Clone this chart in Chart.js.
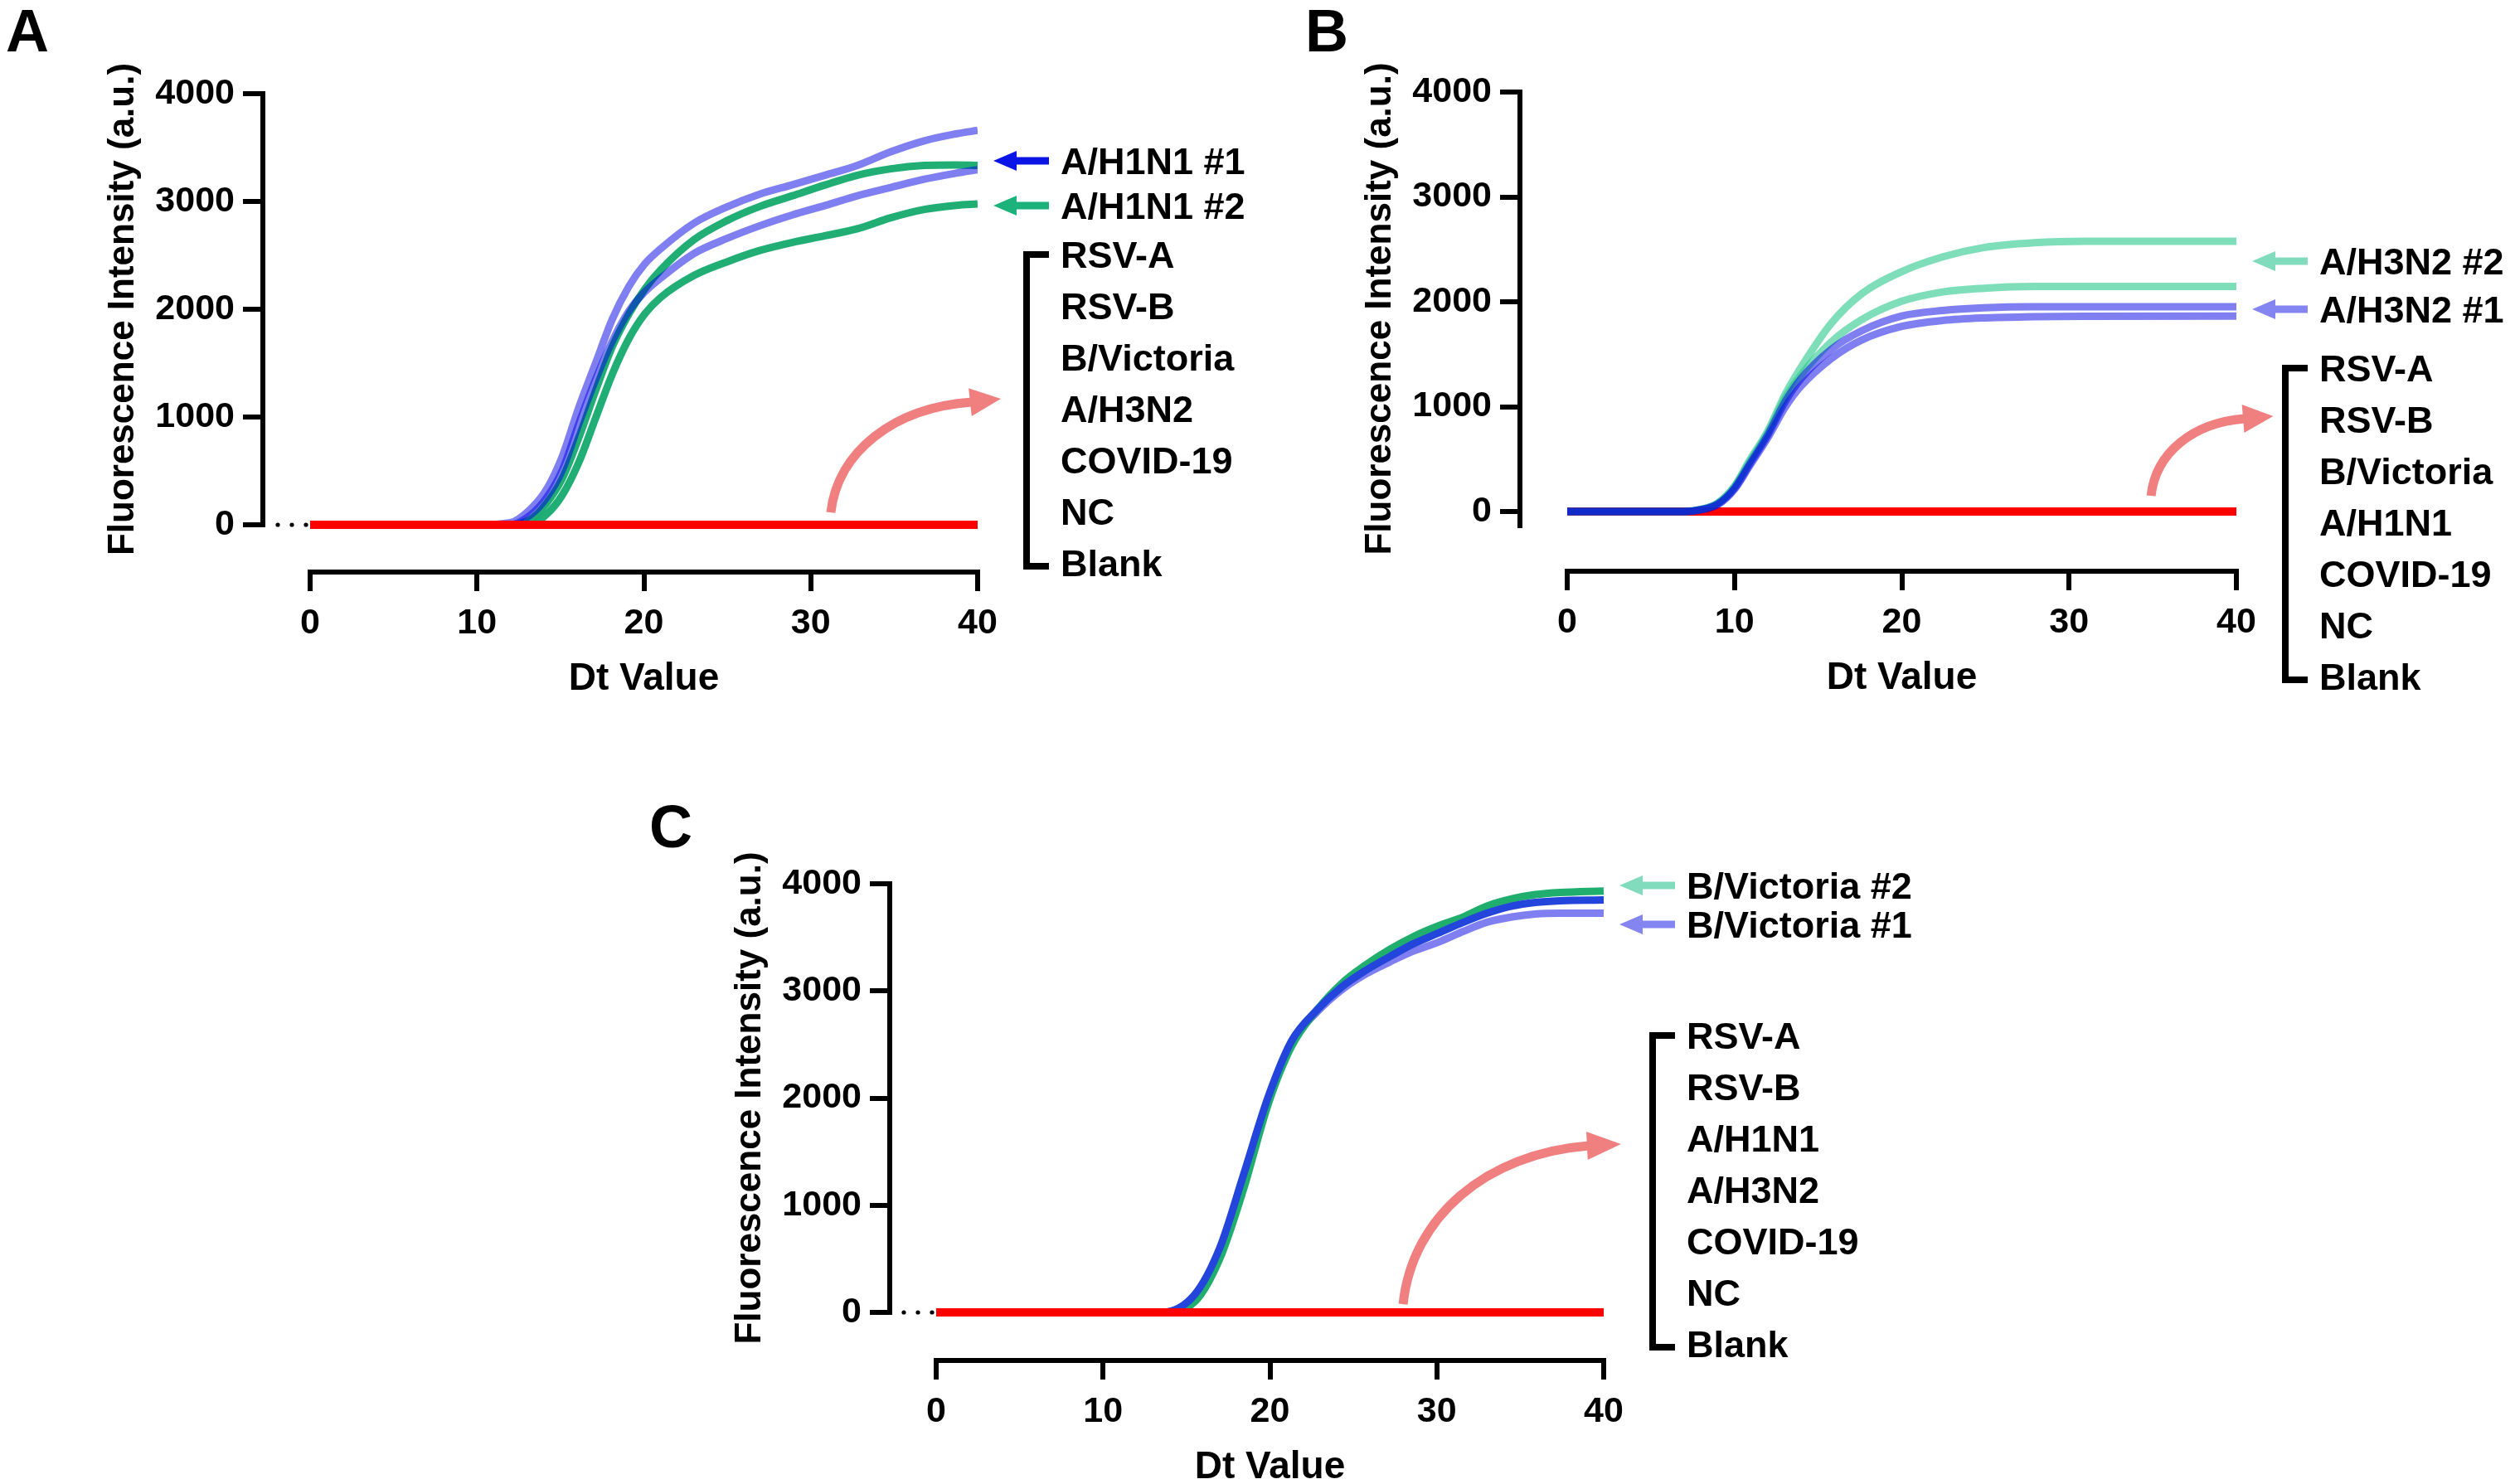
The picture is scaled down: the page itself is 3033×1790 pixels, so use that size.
<!DOCTYPE html>
<html><head><meta charset="utf-8">
<script src="https://cdn.jsdelivr.net/npm/chart.js@4.4.1/dist/chart.umd.min.js"></script>
<style>
html,body{margin:0;padding:0;background:#fff;}
#wrap{position:relative;width:3033px;height:1790px;overflow:hidden;}
#wrap canvas{position:absolute;left:0;top:0;}
</style></head>
<body><div id="wrap">
<canvas id="cA" width="3033" height="1790"></canvas>
<canvas id="cB" width="3033" height="1790"></canvas>
<canvas id="cC" width="3033" height="1790"></canvas>
</div>
<script>
// ---------- tick labels ----------
const xTickValues = [0, 10, 20, 30, 40];
const yTickValues = [0, 1000, 2000, 3000, 4000];
const xTitle = 'Dt Value';
const yTitle = 'Fluorescence Intensity (a.u.)';

// ---------- Panel A (A/H1N1) ----------
const dtA = [0, 10, 12, 13.2, 14.15, 15.1, 16.1, 17.1, 18.1, 19.1, 20.05, 21, 23, 25, 26.9, 28.9, 30.9, 32.8, 34.8, 36.8, 38.7, 40];
const fiA_H1N1_1a = [0, 0, 20, 145, 324, 630, 1089, 1497, 1905, 2211, 2420, 2560, 2798, 2951, 3066, 3155, 3245, 3334, 3461, 3563, 3627, 3660];
const fiA_H1N1_1b = [0, 0, 0, 90, 247, 502, 936, 1344, 1701, 1982, 2160, 2288, 2517, 2658, 2772, 2875, 2964, 3053, 3130, 3206, 3262, 3295];
const fiA_H1N1_2a = [0, 0, 0, 50, 196, 426, 808, 1242, 1650, 1956, 2186, 2364, 2645, 2824, 2951, 3053, 3155, 3244, 3303, 3334, 3339, 3334];
const fiA_H1N1_2b = [0, 0, 0, 0, 94, 273, 579, 987, 1395, 1727, 1956, 2109, 2313, 2441, 2543, 2620, 2683, 2747, 2849, 2926, 2964, 2977];
const namedA = ['A/H1N1 #1', 'A/H1N1 #2'];
const negativesA = ['RSV-A', 'RSV-B', 'B/Victoria', 'A/H3N2', 'COVID-19', 'NC', 'Blank'];

// ---------- Panel B (A/H3N2) ----------
const dtB = [0, 7, 8, 9, 10, 10.9, 12, 13.05, 13.96, 15.78, 17.6, 20, 22.46, 24.9, 27.9, 31, 40];
const fiB_H3N2_2a = [0, 0, 20, 80, 240, 487, 770, 1123, 1370, 1793, 2076, 2288, 2429, 2517, 2563, 2577, 2577];
const fiB_H3N2_2b = [0, 0, 20, 80, 240, 470, 752, 1087, 1299, 1617, 1829, 2005, 2094, 2129, 2146, 2146, 2146];
const fiB_H3N2_1a = [0, 0, 18, 72, 222, 452, 734, 1052, 1264, 1546, 1723, 1864, 1917, 1942, 1952, 1952, 1952];
const fiB_H3N2_1b = [0, 0, 16, 65, 212, 434, 706, 999, 1193, 1458, 1635, 1765, 1822, 1846, 1857, 1862, 1864];
const namedB = ['A/H3N2 #2', 'A/H3N2 #1'];
const negativesB = ['RSV-A', 'RSV-B', 'B/Victoria', 'A/H1N1', 'COVID-19', 'NC', 'Blank'];

// ---------- Panel C (B/Victoria) ----------
const dtC = [0, 13.5, 15.5, 17, 18.4, 19.9, 21.3, 22.8, 24.3, 25.7, 27.2, 28.6, 30.1, 31.6, 33, 34.5, 35.9, 37.4, 40];
const fiC_BV_1a = [0, 0, 160, 590, 1260, 2000, 2520, 2800, 3010, 3154, 3272, 3372, 3456, 3557, 3641, 3691, 3718, 3725, 3725];
const fiC_BV_2 = [0, 0, 100, 503, 1141, 1946, 2483, 2819, 3070, 3238, 3389, 3507, 3607, 3691, 3792, 3859, 3899, 3919, 3933];
const fiC_BV_1b = [0, 0, 168, 604, 1275, 2013, 2534, 2819, 3037, 3188, 3322, 3440, 3540, 3641, 3725, 3792, 3826, 3842, 3849];
const namedC = ['B/Victoria #2', 'B/Victoria #1'];
const negativesC = ['RSV-A', 'RSV-B', 'A/H1N1', 'A/H3N2', 'COVID-19', 'NC', 'Blank'];

// ---------- negatives / blank (flat) ----------
const dtNeg = [0, 40];
const fiNeg = [0, 0];

// pink curved arrows (data coordinates: start, head base, tip)
const pinkA = [[31.2, 115], [39.55, 1138], [41.39, 1169]];
const pinkB = [[34.9, 150], [40.4, 885], [42.2, 909]];
const pinkC = [[27.98, 77], [39.0, 1555], [41.04, 1571]];

// ---------- styling ----------
const FONT = '"Liberation Sans", Arial, Helvetica, sans-serif';
const PURPLE = 'rgba(0,0,230,0.5)';
const RED = '#ff0000';
const AXIS_W = 6;

function pts(xs, ys) { return xs.map((x, i) => ({x: x, y: ys[i]})); }
function ds(xs, ys, color, order, w) {
  return {data: pts(xs, ys), borderColor: color, borderWidth: w || 9, pointRadius: 0,
    fill: false, cubicInterpolationMode: 'monotone', order: order, borderJoinStyle: 'round'};
}

const decoPlugin = {
  id: 'deco',
  afterDraw(chart, args, o) {
    const ctx = chart.ctx, xs = chart.scales.x, ys = chart.scales.y, area = chart.chartArea;
    const X = v => xs.getPixelForValue(v), Y = v => ys.getPixelForValue(v);
    ctx.save();
    ctx.fillStyle = '#000'; ctx.strokeStyle = '#000'; ctx.lineCap = 'butt';
    // axis lines
    ctx.lineWidth = AXIS_W;
    ctx.beginPath();
    ctx.moveTo(area.left, Y(4000) - AXIS_W / 2);
    ctx.lineTo(area.left, Y(0) + AXIS_W / 2 + o.yAxisExtra);
    ctx.stroke();
    ctx.beginPath();
    ctx.moveTo(X(0) - AXIS_W / 2, area.bottom);
    ctx.lineTo(X(40) + AXIS_W / 2, area.bottom);
    ctx.stroke();
    // dots between y axis and x=0
    if (o.dots) {
      for (let i = 0; i < 3; i++) {
        ctx.beginPath(); ctx.arc(X(0) - 5 - 17 * i, Y(0), 2.6, 0, Math.PI * 2); ctx.fill();
      }
    }
    // panel letter
    ctx.font = 'bold 72px ' + FONT; ctx.textAlign = 'left'; ctx.textBaseline = 'alphabetic';
    ctx.fillText(o.letter, o.letterX, o.letterY);
    // axis titles
    ctx.font = 'bold 46px ' + FONT; ctx.textAlign = 'center';
    ctx.fillText(xTitle, (X(0) + X(40)) / 2, area.bottom + 142);
    ctx.save();
    ctx.font = 'bold 44px ' + FONT;
    ctx.translate(area.left - 156, (Y(4000) + Y(0) + o.yAxisExtra) / 2);
    ctx.rotate(-Math.PI / 2);
    ctx.fillText(yTitle, 0, 0);
    ctx.restore();
    // right side labels
    const right = X(40), top = Y(4000);
    ctx.font = 'bold 45px ' + FONT; ctx.textAlign = 'left';
    o.named.forEach((t, i) => {
      const cy = top + o.arrowRows[i];
      ctx.fillText(t, right + 100, cy + 16);
      ctx.fillStyle = o.arrowColors[i];
      const tail = right + 86, tip = right + 19, hl = 28, hw = 12, sw = 9;
      ctx.fillRect(tip + hl - 1, cy - sw / 2, tail - tip - hl + 1, sw);
      ctx.beginPath(); ctx.moveTo(tip, cy); ctx.lineTo(tip + hl, cy - hw); ctx.lineTo(tip + hl, cy + hw); ctx.closePath(); ctx.fill();
      ctx.fillStyle = '#000';
    });
    const lt = top + o.listTop, sp = 62;
    o.list.forEach((t, i) => ctx.fillText(t, right + 100, lt + i * sp + 16));
    // bracket
    ctx.lineWidth = 8;
    ctx.beginPath();
    ctx.moveTo(right + 86, lt);
    ctx.lineTo(right + 59, lt);
    ctx.lineTo(right + 59, lt + 6 * sp + 4);
    ctx.lineTo(right + 86, lt + 6 * sp + 4);
    ctx.stroke();
    // pink curved arrow
    const p = o.pink;
    const s = [X(p[0][0]), Y(p[0][1])], b = [X(p[1][0]), Y(p[1][1])], t = [X(p[2][0]), Y(p[2][1])];
    const dx = b[0] - s[0], dy = b[1] - s[1];
    ctx.strokeStyle = '#f08080'; ctx.fillStyle = '#f08080'; ctx.lineWidth = 11;
    ctx.beginPath();
    ctx.moveTo(s[0], s[1]);
    ctx.bezierCurveTo(s[0] + 0.05 * dx, s[1] + 0.55 * dy, b[0] - 0.55 * dx, b[1] - 0.05 * dy, b[0] + 2, b[1]);
    ctx.stroke();
    const ux = t[0] - b[0], uy = t[1] - b[1], L = Math.hypot(ux, uy);
    const nx = -uy / L, ny = ux / L, hw2 = 17;
    ctx.beginPath();
    ctx.moveTo(t[0], t[1]);
    ctx.lineTo(b[0] + nx * hw2, b[1] + ny * hw2);
    ctx.lineTo(b[0] - nx * hw2, b[1] - ny * hw2);
    ctx.closePath(); ctx.fill();
    ctx.restore();
  }
};

function makeChart(id, L, datasets, deco) {
  const pxX = (L.x40 - L.x0) / 40;
  const pxY = (L.y0 - L.y4000) / 4000;
  const xmin = -(L.x0 - L.yAxisX) / pxX;
  const ymin = -(L.xAxisY - L.y0) / pxY;
  const W = 250, H = 100;
  const tickFont = {family: FONT, size: 43, weight: 'bold'};
  return new Chart(document.getElementById(id), {
    type: 'line',
    data: {datasets: datasets},
    options: {
      responsive: false, animation: false, events: [],
      layout: {autoPadding: false, padding: {left: L.yAxisX - W, top: L.y4000, right: 3033 - L.x40, bottom: 1790 - L.xAxisY - H}},
      plugins: {legend: {display: false}, tooltip: {enabled: false}, deco: deco},
      scales: {
        x: {type: 'linear', position: 'bottom', min: xmin, max: 40,
          afterFit(s) { s.height = H; s.paddingLeft = 0; s.paddingRight = 0; },
          afterBuildTicks(s) { s.ticks = xTickValues.map(v => ({value: v})); },
          ticks: {font: tickFont, color: '#000', padding: 13, maxRotation: 0, autoSkip: false, callback: v => String(v)},
          grid: {drawOnChartArea: false, drawTicks: true, tickLength: 23, lineWidth: AXIS_W, color: '#000'},
          border: {display: false}},
        y: {type: 'linear', position: 'left', min: ymin, max: 4000,
          afterFit(s) { s.width = W; s.paddingTop = 0; s.paddingBottom = 0; },
          afterBuildTicks(s) { s.ticks = yTickValues.map(v => ({value: v})); },
          ticks: {font: tickFont, color: '#000', padding: 10, autoSkip: false, callback: v => String(v)},
          grid: {drawOnChartArea: false, drawTicks: true, tickLength: 24, lineWidth: AXIS_W, color: '#000'},
          border: {display: false}}
      }
    },
    plugins: [decoPlugin]
  });
}

// Panel A
makeChart('cA', {yAxisX: 317, x0: 374, x40: 1179, y4000: 113, y0: 633, xAxisY: 690}, [
  ds(dtNeg, fiNeg, RED, 0, 10),
  ds(dtA, fiA_H1N1_1b, PURPLE, 1),
  ds(dtA, fiA_H1N1_1a, PURPLE, 2),
  ds(dtA, fiA_H1N1_2a, 'rgba(20,170,110,0.95)', 3),
  ds(dtA, fiA_H1N1_2b, 'rgba(20,170,110,0.95)', 4)
], {letter: 'A', letterX: 7, letterY: 62, yAxisExtra: 0, dots: true,
  named: namedA, arrowRows: [81, 135], arrowColors: ['#0a14e6', '#1cb27c'],
  list: negativesA, listTop: 194, pink: pinkA});

// Panel B
makeChart('cB', {yAxisX: 1833, x0: 1890, x40: 2697, y4000: 111, y0: 617, xAxisY: 689}, [
  ds(dtB, fiB_H3N2_1b, PURPLE, 0),
  ds(dtB, fiB_H3N2_1a, PURPLE, 1),
  ds(dtB, fiB_H3N2_2b, 'rgba(40,200,140,0.6)', 2),
  ds(dtB, fiB_H3N2_2a, 'rgba(40,200,140,0.6)', 3),
  ds(dtNeg, fiNeg, RED, 4, 10)
], {letter: 'B', letterX: 1574, letterY: 62, yAxisExtra: 17, dots: false,
  named: namedB, arrowRows: [204, 262], arrowColors: ['#80dcbc', '#8585f2'],
  list: negativesB, listTop: 333, pink: pinkB});

// Panel C
makeChart('cC', {yAxisX: 1073, x0: 1129, x40: 1934, y4000: 1066, y0: 1583, xAxisY: 1641}, [
  ds(dtNeg, fiNeg, RED, 0, 10),
  ds(dtC, fiC_BV_1b, '#2345db', 1),
  ds(dtC, fiC_BV_2, '#1fae6e', 2),
  ds(dtC, fiC_BV_1a, PURPLE, 3)
], {letter: 'C', letterX: 783, letterY: 1022, yAxisExtra: 0, dots: true,
  named: namedC, arrowRows: [2, 49], arrowColors: ['#80dcbc', '#8585f2'],
  list: negativesC, listTop: 183, pink: pinkC});
</script>
</body></html>
